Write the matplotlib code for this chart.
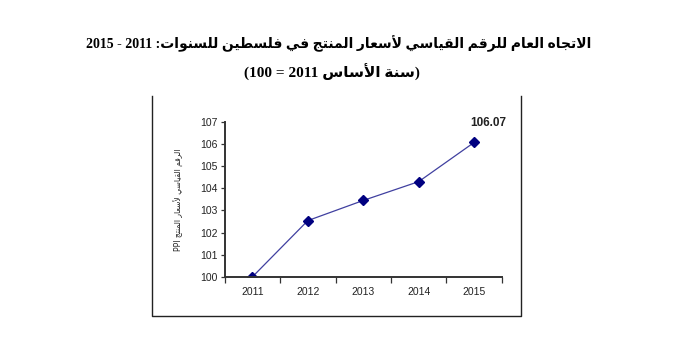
import re
import matplotlib
matplotlib.use("Agg")
import matplotlib.pyplot as plt
from matplotlib.lines import Line2D

# Producer price index, base year 2011 = 100
years = ["2011", "2012", "2013", "2014", "2015"]
ppi = [100.00, 102.54, 103.45, 104.30, 106.07]
yticks = [100, 101, 102, 103, 104, 105, 106, 107]

title_1 = "الاتجاه العام للرقم القياسي لأسعار المنتج في فلسطين للسنوات: 2011 - 2015"
title_2 = "(سنة الأساس 2011 = 100)"
ylabel = "الرقم القياسي لأسعار المنتج PPI"

# Arabic presentation forms: isolated, final, initial, medial
FORMS = {
    "ا": ("\uFE8D", "\uFE8E", None, None),
    "أ": ("\uFE83", "\uFE84", None, None),
    "ت": ("\uFE95", "\uFE96", "\uFE97", "\uFE98"),
    "ج": ("\uFE9D", "\uFE9E", "\uFE9F", "\uFEA0"),
    "ه": ("\uFEE9", "\uFEEA", "\uFEEB", "\uFEEC"),
    "ع": ("\uFEC9", "\uFECA", "\uFECB", "\uFECC"),
    "م": ("\uFEE1", "\uFEE2", "\uFEE3", "\uFEE4"),
    "ل": ("\uFEDD", "\uFEDE", "\uFEDF", "\uFEE0"),
    "ر": ("\uFEAD", "\uFEAE", None, None),
    "ق": ("\uFED5", "\uFED6", "\uFED7", "\uFED8"),
    "ي": ("\uFEF1", "\uFEF2", "\uFEF3", "\uFEF4"),
    "س": ("\uFEB1", "\uFEB2", "\uFEB3", "\uFEB4"),
    "ن": ("\uFEE5", "\uFEE6", "\uFEE7", "\uFEE8"),
    "ف": ("\uFED1", "\uFED2", "\uFED3", "\uFED4"),
    "ط": ("\uFEC1", "\uFEC2", "\uFEC3", "\uFEC4"),
    "و": ("\uFEED", "\uFEEE", None, None),
    "ة": ("\uFE93", "\uFE94", None, None),
}
LAM_ALEF = {"ا": ("\uFEFB", "\uFEFC", None, None),
            "أ": ("\uFEF7", "\uFEF8", None, None)}


def shape(text):
    items = []
    i = 0
    while i < len(text):
        c = text[i]
        if c == "ل" and i + 1 < len(text) and text[i + 1] in LAM_ALEF:
            items.append(LAM_ALEF[text[i + 1]])
            i += 2
        else:
            items.append(FORMS.get(c, c))
            i += 1
    out = []
    for k, it in enumerate(items):
        if isinstance(it, str):
            out.append(it)
            continue
        prev = items[k - 1] if k > 0 else None
        nxt = items[k + 1] if k + 1 < len(items) else None
        join_prev = isinstance(prev, tuple) and prev[2] is not None
        join_next = it[2] is not None and isinstance(nxt, tuple)
        if join_prev and join_next:
            out.append(it[3])
        elif join_prev:
            out.append(it[1])
        elif join_next:
            out.append(it[2])
        else:
            out.append(it[0])
    return "".join(out)


def rtl(text):
    s = shape(text)[::-1]
    s = s.translate(str.maketrans("()", ")("))
    return re.sub(r"[A-Za-z0-9.]+", lambda m: m.group(0)[::-1], s)


fig = plt.figure(figsize=(7, 3.5), dpi=100)
ax = fig.add_axes([0.321, 0.209, 0.396, 0.443])

x = list(range(len(years)))
ax.plot(x, ppi, color="#4040a0", lw=0.9, marker="D", markersize=5,
        markerfacecolor="#000080", markeredgecolor="#000080")
ax.annotate(f"{ppi[-1]:.2f}", (x[-1], ppi[-1]), xytext=(10, 14),
            textcoords="offset points", ha="center", va="center",
            fontsize=8.5, fontweight="bold", family="Liberation Sans",
            color="#222222")

ax.set_xlim(-0.5, len(years) - 0.5)
ax.set_ylim(yticks[0], yticks[-1])
ax.set_yticks(yticks)
ax.set_yticklabels([str(t) for t in yticks])
ax.set_xticks(x)
ax.set_xticklabels(years)
ax.set_xticks([i - 0.5 for i in range(len(years) + 1)], minor=True)
ax.tick_params(axis="x", which="major", length=0, pad=7)
ax.tick_params(axis="x", which="minor", length=4, width=0.9, color="#333333")
ax.tick_params(axis="y", length=3, width=0.9, color="#333333", pad=2)
for lab in ax.get_xticklabels() + ax.get_yticklabels():
    lab.set_family("Liberation Sans")
    lab.set_fontsize(7.5)
    lab.set_color("#222222")
for side in ("top", "right"):
    ax.spines[side].set_visible(False)
for side in ("left", "bottom"):
    ax.spines[side].set_linewidth(1.4)
    ax.spines[side].set_color("#333333")

ax.set_ylabel(rtl(ylabel), fontsize=5.5, family=["DejaVu Sans"], color="#222222")
ax.yaxis.set_label_coords(-0.15, 0.5)

# open frame around the chart area
fx = [152 / 700, 152 / 700, 521 / 700, 521 / 700]
fy = [1 - 96 / 350, 1 - 316 / 350, 1 - 316 / 350, 1 - 96 / 350]
fig.add_artist(Line2D(fx, fy, transform=fig.transFigure, color="#222222", lw=1.0))

fig.text(0.484, 1 - 44 / 350, rtl(title_1), ha="center", va="center",
         fontsize=10, fontweight="bold", family=["Liberation Serif", "DejaVu Sans"])
fig.text(0.474, 1 - 72 / 350, rtl(title_2), ha="center", va="center",
         fontsize=11, fontweight="bold", family=["Liberation Serif", "DejaVu Sans"])

fig.savefig("out.png", dpi=100)
